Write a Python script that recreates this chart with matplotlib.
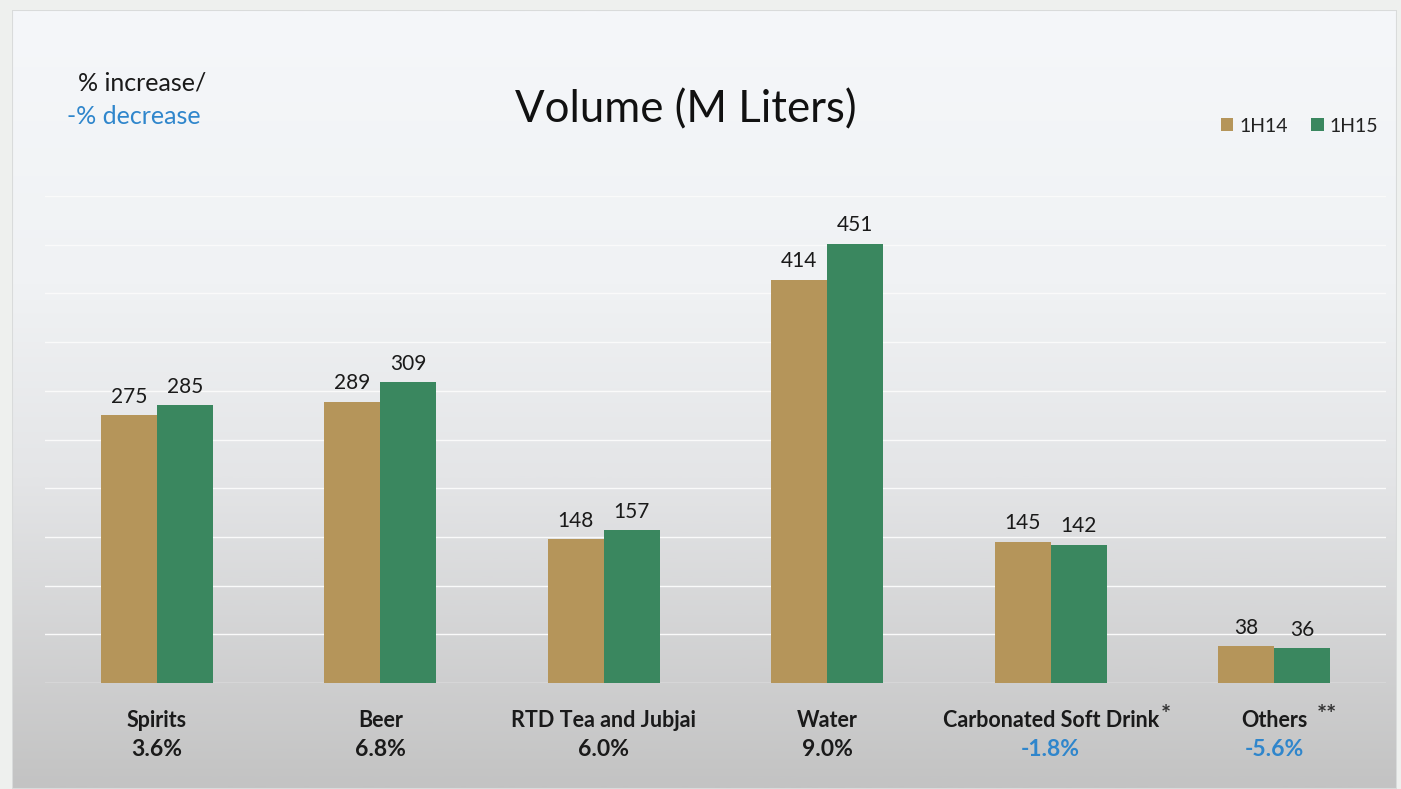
import numpy as np
import matplotlib
matplotlib.use('Agg')
import matplotlib.pyplot as plt
from matplotlib.colors import LinearSegmentedColormap

plt.rcParams['font.family'] = ['Lato', 'DejaVu Sans']

categories = ['Spirits', 'Beer', 'RTD Tea and Jubjai', 'Water',
              'Carbonated Soft Drink', 'Others']
vol_1h14 = [275, 289, 148, 414, 145, 38]
vol_1h15 = [285, 309, 157, 451, 142, 36]
change_pct = [3.6, 6.8, 6.0, 9.0, -1.8, -5.6]
footnotes = ['', '', '', '', '*', '**']
series_names = ['1H14', '1H15']

tan = '#b5955a'
green = '#3a875f'
blue = '#2f86cc'

W, H = 1401, 789
fig = plt.figure(figsize=(W / 100, H / 100), dpi=100)
fig.patch.set_facecolor('#eef0ee')

# gradient panel behind the chart
bg = fig.add_axes([12 / W, 0, (1397 - 12) / W, (H - 10) / H])
bg.set_axis_off()
cmap = LinearSegmentedColormap.from_list(
    'bg', [(0.0, '#f5f7fa'), (0.35, '#f0f2f4'), (0.6, '#e4e5e7'), (1.0, '#c3c3c3')])
grad = np.linspace(0, 1, 400).reshape(-1, 1)
bg.imshow(grad, aspect='auto', cmap=cmap, extent=[0, 1, 1, 0])
bg.set_xlim(0, 1)
bg.set_ylim(1, 0)
bg.add_patch(plt.Rectangle((0, 0), 1, 1, fill=False, ec='#d9dbdb', lw=1.5,
                           transform=bg.transAxes))

ax = fig.add_axes([45 / W, 106 / H, (1386 - 45) / W, (683 - 196) / H])
ax.set_facecolor('none')
x = np.arange(len(categories))
w = 0.25
b1 = ax.bar(x - w / 2, vol_1h14, w, color=tan, label=series_names[0], zorder=3)
b2 = ax.bar(x + w / 2, vol_1h15, w, color=green, label=series_names[1], zorder=3)
ax.bar_label(b1, padding=6, fontsize=15, color='#1a1a1a')
ax.bar_label(b2, padding=6, fontsize=15, color='#1a1a1a')

ax.set_xlim(-0.5, len(categories) - 0.5)
ax.set_ylim(0, 500)
ax.set_yticks(np.arange(0, 501, 50))
ax.grid(axis='y', color='#fafafa', lw=1.0, zorder=1)
ax.tick_params(left=False, bottom=False, labelleft=False, labelbottom=False)
for s in ax.spines.values():
    s.set_visible(False)

for i, (cat, pct, fn) in enumerate(zip(categories, change_pct, footnotes)):
    t = ax.annotate(cat, xy=(i, 0), xycoords=('data', 'axes fraction'),
                    xytext=(0, -27), textcoords='offset points',
                    ha='center', va='center', fontsize=15.5, fontweight='bold',
                    color='#1a1a1a')
    ax.annotate(f'{pct:.1f}%', xy=(i, 0), xycoords=('data', 'axes fraction'),
                xytext=(0, -48), textcoords='offset points',
                ha='center', va='center', fontsize=16.5, fontweight='bold',
                color=blue if pct < 0 else '#1a1a1a')
    if fn:
        ax.annotate(fn, xy=(1, 1), xycoords=t,
                    xytext=(1 if len(fn) == 1 else 7, -4), textcoords='offset points',
                    ha='left', va='center', fontsize=17, fontweight='bold',
                    color='#333333')

fig.text(686 / W, 1 - 122 / H, 'Volume (M Liters)', ha='center', va='baseline',
         fontsize=31.5, color='#111111')
fig.text(142 / W, 1 - 83 / H, '% increase/', ha='center', va='center',
         fontsize=18, color='#1a1a1a')
fig.text(134 / W, 1 - 116 / H, '-% decrease', ha='center', va='center',
         fontsize=18, color=blue)

leg = fig.legend(handles=[b1, b2], labels=series_names, loc='center right',
                 bbox_to_anchor=(1386 / W, 1 - 126 / H), ncol=2, frameon=False,
                 fontsize=14, handlelength=0.65, handleheight=0.65,
                 handletextpad=0.3, columnspacing=1.2, borderaxespad=0)
for txt in leg.get_texts():
    txt.set_color('#222222')

fig.savefig('out.png', dpi=100, facecolor=fig.get_facecolor())
